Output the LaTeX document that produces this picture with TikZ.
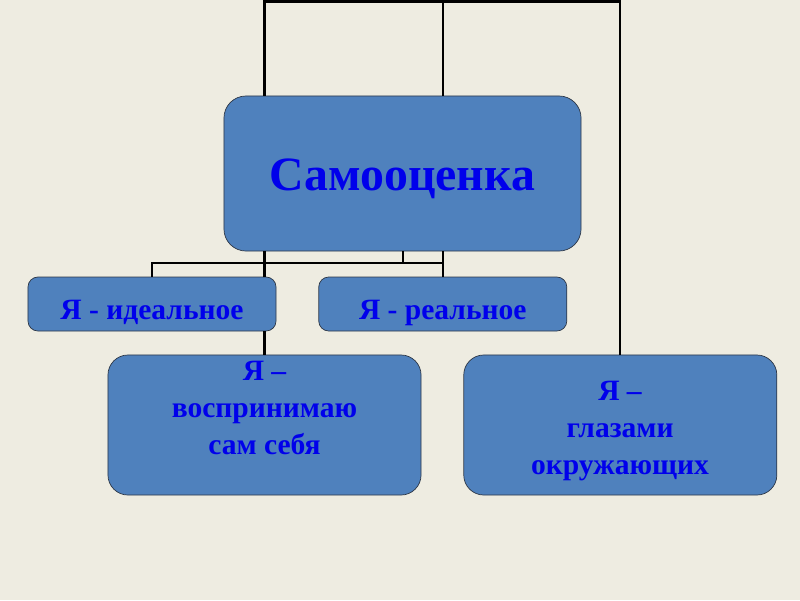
\documentclass[tikz,border=0pt]{standalone}
\usepackage{fontspec}
\setmainfont{Liberation Serif}
\usepackage{xcolor}
\definecolor{slidebg}{RGB}{238,236,225}
\definecolor{boxblue}{RGB}{79,129,189}
\definecolor{boxedge}{RGB}{45,55,70}
\definecolor{textblue}{RGB}{0,0,235}
\usetikzlibrary{positioning}

\begin{document}
\begin{tikzpicture}[
  x=0.025cm, y=-0.025cm,
  node distance=1.05cm,
  box/.style={rectangle, draw=boxedge, line width=0.5pt, fill=boxblue,
              text=textblue, align=center},
  mainbox/.style={box, rounded corners=0.55cm, minimum width=8.925cm, minimum height=3.875cm,
                  text height=1.0cm, text depth=0.17cm,
                  font=\fontsize{34}{40}\selectfont\bfseries},
  smallbox/.style={box, rounded corners=0.25cm, minimum width=6.2cm, minimum height=1.35cm,
                   inner sep=0pt, text height=0.9cm, text depth=0.12cm,
                   font=\fontsize{21}{25}\selectfont\bfseries},
  bigbox/.style={box, rounded corners=0.5cm, minimum width=7.825cm, minimum height=3.5cm},
  boxtext/.style={text=textblue, align=center, font=\fontsize{21}{26}\selectfont\bfseries},
  link/.style={line width=1.6pt, color=black}
]
  % Slide background
  \fill[slidebg] (0,0) rectangle (800,600);
  \useasboundingbox (0,0) rectangle (800,600);
  \coordinate (rail) at (0,1.5);

  % Main box
  \node[mainbox] (main) at (402.5,173.5) {Самооценка};
  % Middle row
  \node[smallbox] (ideal) at (152,304) {Я - идеальное};
  \node[smallbox, right=of ideal] (real) {Я - реальное};
  % Bottom row
  \node[bigbox] (selfview) at (264.5,425) {};
  \node[bigbox, right=of selfview] (others) {};
  \node[boxtext] (selftext) at (264.5,408) {Я –\\воспринимаю\\сам себя};
  \node[boxtext] (otherstext) at (620,431) {Я –\\глазами\\окружающих};

  % Top rail
  \draw[link] (main.north -| selfview.north) -- (selfview.north |- rail)
    -- (others.north |- rail) -- (others.north);
  \draw[link] (main.north -| real.north) -- (real.north |- rail);
  % Links below main box
  \coordinate (fork) at (403,263);
  \draw[link] (main.south -| selfview.north) -- (ideal.north -| selfview.north);
  \draw[link] (ideal.south -| selfview.north) -- (selfview.north);
  \draw[link] (main.south -| real.north) -- (real.north);
  \draw[link] (main.south -| fork) -- (fork) -| (ideal.north);
  \draw[link] (fork) -- (fork -| real.north);
\end{tikzpicture}
\end{document}
